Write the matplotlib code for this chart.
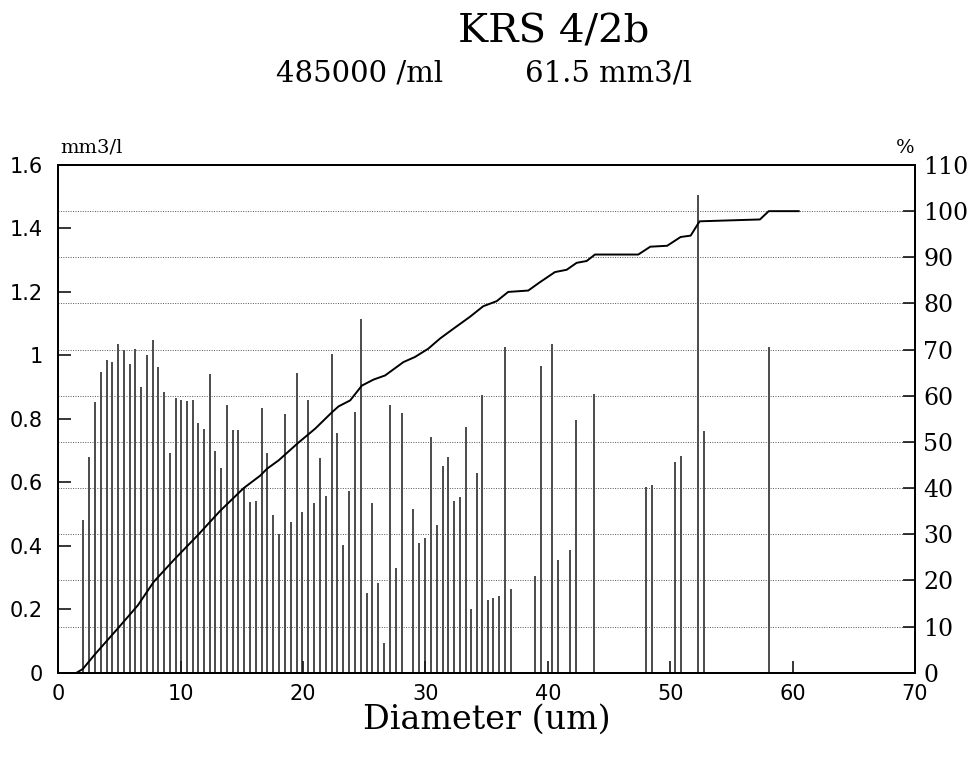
import numpy as np
import matplotlib.pyplot as plt

# channel diameters (um) and volume per channel (mm3/l)
diameter = [1.99, 2.51, 3.00, 3.46, 3.95, 4.41, 4.90, 5.37, 5.83, 6.29,
            6.76, 7.25, 7.71, 8.17, 8.66, 9.13, 9.59, 10.05, 10.51, 10.98,
            11.44, 11.90, 12.37, 12.84, 13.29, 13.77, 14.25, 14.71, 15.17, 15.66,
            16.13, 16.62, 17.08, 17.57, 18.06, 18.52, 19.01, 19.48, 19.93, 20.42,
            20.89, 21.36, 21.87, 22.34, 22.79, 23.28, 23.75, 24.24, 24.71, 25.20,
            25.65, 26.12, 26.61, 27.08, 27.57, 28.06, 28.98, 29.47, 29.93, 30.42,
            30.92, 31.41, 31.86, 32.33, 32.82, 33.28, 33.74, 34.21, 34.64, 35.08,
            35.54, 36.01, 36.50, 36.96, 38.95, 39.42, 40.38, 40.85, 41.78, 42.27,
            43.75, 48.05, 48.55, 50.40, 50.92, 52.30, 52.80, 58.05]
volume = [0.482, 0.680, 0.853, 0.948, 0.984, 0.980, 1.037, 1.018, 0.974, 1.021,
          0.900, 1.000, 1.048, 0.963, 0.884, 0.693, 0.865, 0.860, 0.857, 0.860,
          0.788, 0.769, 0.941, 0.698, 0.646, 0.844, 0.764, 0.766, 0.583, 0.538,
          0.541, 0.835, 0.693, 0.498, 0.438, 0.816, 0.475, 0.945, 0.506, 0.858,
          0.535, 0.676, 0.556, 1.003, 0.756, 0.401, 0.572, 0.823, 1.115, 0.251,
          0.536, 0.283, 0.095, 0.844, 0.330, 0.819, 0.515, 0.410, 0.426, 0.742,
          0.464, 0.650, 0.680, 0.540, 0.554, 0.774, 0.202, 0.629, 0.874, 0.230,
          0.234, 0.242, 1.028, 0.263, 0.304, 0.965, 1.037, 0.354, 0.386, 0.795,
          0.879, 0.584, 0.593, 0.664, 0.683, 1.507, 0.763, 1.026]

# cumulative volume curve (%)
cum_d = [1.5, 2.0, 3.0, 4.0, 5.0, 6.5, 7.8, 9.5, 11.4, 13.2, 15.15, 16.5, 17.06,
         18.0, 19.6, 21.0, 22.35, 22.9, 23.85, 24.8, 25.75, 26.7, 28.2, 29.14,
         30.23, 31.19, 32.27, 33.63, 34.72, 35.82, 36.76, 38.4, 39.35, 40.58,
         41.54, 42.35, 43.17, 43.85, 47.39, 48.37, 49.75, 50.85, 51.67, 52.4,
         57.33, 58.05, 60.5]
cum_pct = [0, 0.8, 4.0, 7.0, 10.0, 14.6, 19.7, 24.6, 29.8, 35.0, 40.0, 42.7, 44.2,
           46.0, 49.8, 52.9, 56.4, 57.7, 59.0, 62.2, 63.5, 64.4, 67.3, 68.4,
           70.2, 72.4, 74.5, 77.1, 79.4, 80.5, 82.5, 82.8, 84.6, 86.8,
           87.3, 88.8, 89.2, 90.6, 90.6, 92.3, 92.5, 94.4, 94.7, 97.8,
           98.2, 100.0, 100.0]

left_ticks = [0, 0.2, 0.4, 0.6, 0.8, 1.0, 1.2, 1.4, 1.6]
left_labels = ['0', '0.2', '0.4', '0.6', '0.8', '1', '1.2', '1.4', '1.6']
right_ticks = list(range(0, 111, 10))
x_ticks = list(range(0, 71, 10))

serif = 'DejaVu Serif'
sans = 'DejaVu Sans'

W, H = 978, 757
fig = plt.figure(figsize=(W / 100, H / 100), dpi=100)
ax = fig.add_axes([58.3 / W, (H - 672.7) / H, (915 - 58.3) / W, (672.7 - 165) / H])

ax.vlines(diameter, 0, volume, color='#1a1a1a', lw=1.1)
ax.set_xlim(0, 70)
ax.set_ylim(0, 1.6)
ax.set_xticks(x_ticks)
ax.set_xticklabels([str(t) for t in x_ticks], family=sans, fontsize=15)
ax.set_yticks(left_ticks)
ax.set_yticklabels(left_labels, family=sans, fontsize=15)
ax.tick_params(axis='x', direction='in', length=9, width=1.1, pad=8)
ax.tick_params(axis='y', direction='in', length=9, width=1.1, pad=11)
for s in ax.spines.values():
    s.set_linewidth(1.4)

ax2 = ax.twinx()
ax2.set_ylim(0, 110)
ax2.set_yticks(right_ticks)
ax2.set_yticklabels([str(t) for t in right_ticks], family=serif, fontsize=17)
ax2.tick_params(axis='y', direction='in', length=9, width=1.1, pad=6)
ax2.grid(axis='y', linestyle=(0, (1, 1.5)), color='#555555', lw=0.7)
ax2.plot(cum_d, cum_pct, color='black', lw=1.4)
for s in ax2.spines.values():
    s.set_linewidth(1.4)

ax.set_xlabel('Diameter (um)', family=serif, fontsize=24, labelpad=0)

fig.text(554 / W, 1 - 32 / H, 'KRS 4/2b', ha='center', va='center',
         family=serif, fontsize=29)
fig.text(360 / W, 1 - 73 / H, '485000 /ml', ha='center', va='center',
         family=serif, fontsize=21)
fig.text(609 / W, 1 - 73 / H, '61.5 mm3/l', ha='center', va='center',
         family=serif, fontsize=21)
fig.text(60 / W, 1 - 148 / H, 'mm3/l', ha='left', va='center',
         family=serif, fontsize=14)
fig.text(905 / W, 1 - 148 / H, '%', ha='center', va='center',
         family=serif, fontsize=14)

fig.savefig('out.png', dpi=100, facecolor='white')
